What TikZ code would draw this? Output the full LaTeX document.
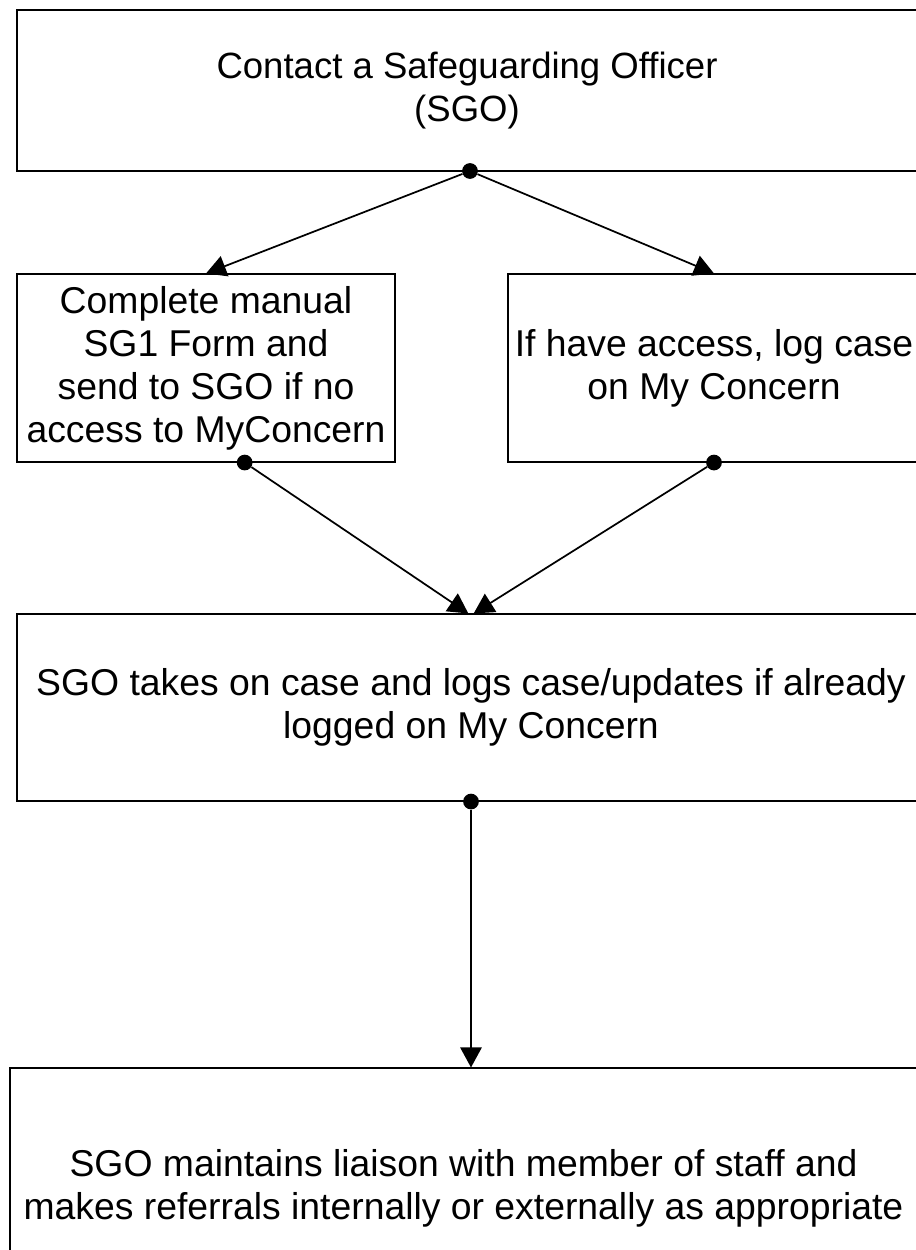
\documentclass[tikz,border=0pt]{standalone}
\usepackage{fontspec}
\setmainfont{Liberation Sans}
\usetikzlibrary{arrows.meta, positioning}

\begin{document}
\begin{tikzpicture}[
        x=0.75pt, y=-0.75pt,
        box/.style={draw, line width=0.8pt, rectangle, align=center, inner sep=0pt, font=\fontsize{28}{32.3}\selectfont},
        dot/.style={circle, fill, inner sep=0pt, minimum size=11.8pt},
        arrow/.style={-{Triangle[length=15pt, width=16pt]}, line width=1.3pt}
    ]
        \useasboundingbox[fill=white] (0,0) rectangle (915,1250);
        % Nodes
        \node (contact) [box, font=\fontsize{27.4}{32.3}\selectfont, minimum width=675pt, minimum height=120.75pt] at (467,90.5) {Contact a Safeguarding Officer\\(SGO)};
        \node (manual) [box, minimum width=283.5pt, minimum height=141pt] at (206,368) {Complete manual\\SG1 Form and\\send to SGO if no\\access to MyConcern};
        \node (access) [box, minimum width=309pt, minimum height=141pt] at (714,368) {If have access, log case\\on My Concern};
        \node (takes) [box, minimum width=681pt, minimum height=140.25pt] at (471,707.5) {SGO takes on case and logs case/updates if already\\logged on My Concern};
        \node (liaison) [box, minimum width=680.25pt, minimum height=180pt] at (463.5,1188) {SGO maintains liaison with member of staff and\\makes referrals internally or externally as appropriate};

        % Dots
        \node (d1) [dot] at (470,171) {};
        \node (d2) [dot] at ([xshift=29pt]manual.south) {};
        \node (d3) [dot] at (access.south) {};
        \node (d4) [dot] at (takes.south) {};

        % Paths
        \draw [arrow] (d1) -- (manual.north);
        \draw [arrow] (d1) -- (access.north);
        \draw [arrow] (d2) -- ([xshift=-2pt]takes.north);
        \draw [arrow] (d3) -- ([xshift=2pt]takes.north);
        \draw [arrow] (d4) -- (d4 |- liaison.north);
    \end{tikzpicture}
\end{document}
